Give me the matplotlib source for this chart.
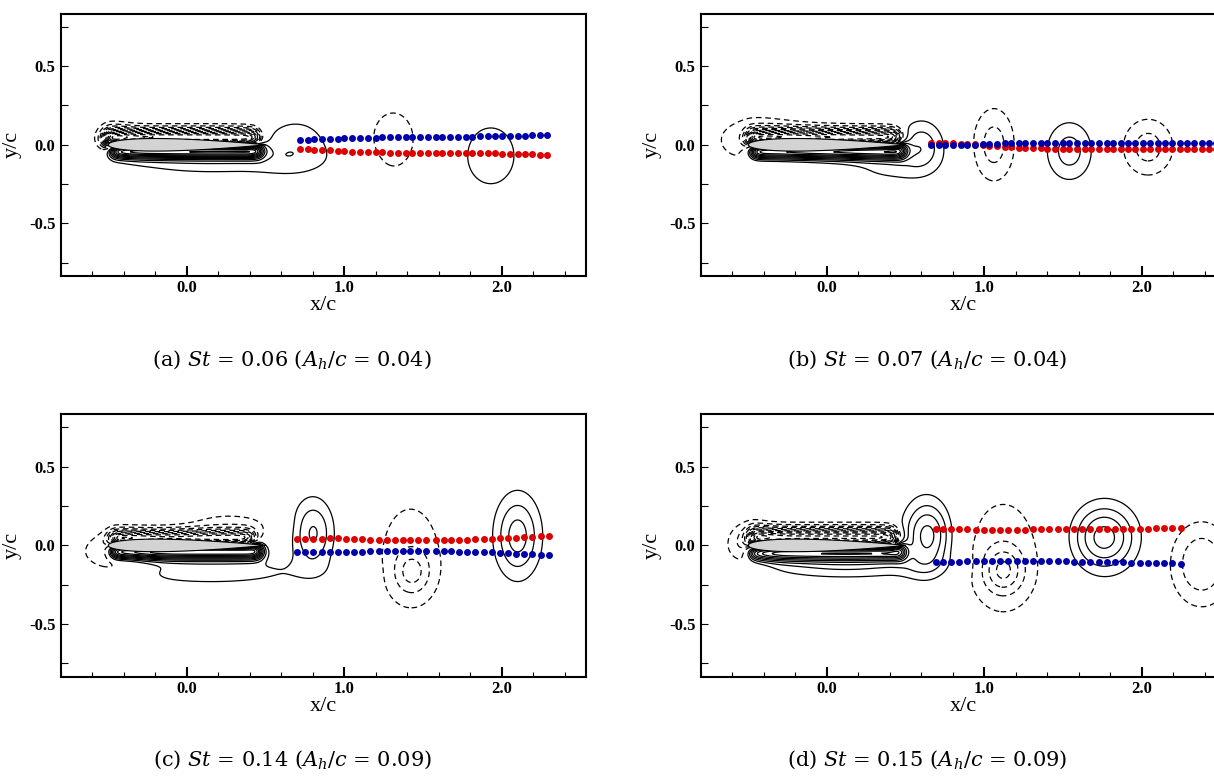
import numpy as np
import matplotlib
matplotlib.use('Agg')
import matplotlib.pyplot as plt
from matplotlib.ticker import MultipleLocator, FormatStrFormatter

plt.rcParams['font.family'] = 'serif'
plt.rcParams['font.serif'] = ['Liberation Serif', 'DejaVu Serif']
plt.rcParams['mathtext.fontset'] = 'dejavuserif'
plt.rcParams['axes.unicode_minus'] = False
plt.rcParams['lines.dashed_pattern'] = [4.5, 3.0]

# probe points (x/c) and vortex-centre heights (y/c), red = upper row, blue = lower row
xa = [0.72, 0.77, 0.81, 0.86, 0.91, 0.96, 1.00, 1.05, 1.10, 1.15, 1.20, 1.24, 1.29, 1.34, 1.39, 1.43, 1.48,
      1.53, 1.58, 1.62, 1.67, 1.72, 1.77, 1.81, 1.86, 1.91, 1.96, 2.00, 2.05, 2.10, 2.15, 2.19, 2.24, 2.29]
red_a = [-0.027, -0.029, -0.032, -0.034, -0.036, -0.038, -0.040, -0.043, -0.045, -0.047, -0.048, -0.048, -0.049,
         -0.050, -0.050, -0.050, -0.051, -0.051, -0.052, -0.052, -0.052, -0.053, -0.053, -0.053, -0.054, -0.054,
         -0.055, -0.056, -0.057, -0.058, -0.059, -0.060, -0.062, -0.063]
blue_a = [0.030, 0.031, 0.034, 0.036, 0.038, 0.040, 0.042, 0.043, 0.044, 0.045, 0.046, 0.047, 0.047, 0.048,
          0.048, 0.049, 0.049, 0.050, 0.050, 0.050, 0.051, 0.051, 0.052, 0.052, 0.053, 0.053, 0.054, 0.055,
          0.056, 0.057, 0.058, 0.060, 0.061, 0.063]

xb = [0.66, 0.71, 0.75, 0.80, 0.85, 0.89, 0.94, 0.99, 1.03, 1.08, 1.13, 1.17, 1.22, 1.26, 1.31, 1.36, 1.40,
      1.45, 1.50, 1.54, 1.59, 1.64, 1.68, 1.73, 1.78, 1.82, 1.87, 1.91, 1.96, 2.01, 2.05, 2.10, 2.15, 2.19,
      2.24, 2.29, 2.33, 2.38, 2.43, 2.47, 2.52]
red_b = [0.012, 0.012, 0.011, 0.010, 0.008, 0.006, 0.003, 0.000, -0.005, -0.010, -0.014, -0.017, -0.019,
         -0.021, -0.022, -0.023, -0.024, -0.024, -0.025, -0.025, -0.025, -0.025, -0.026, -0.026, -0.026,
         -0.026, -0.026, -0.026, -0.026, -0.026, -0.026, -0.026, -0.026, -0.026, -0.026, -0.026, -0.026,
         -0.026, -0.026, -0.026, -0.026]
blue_b = [0.000, 0.000, 0.000, 0.000, 0.000, 0.000, 0.001, 0.003, 0.005, 0.007, 0.009, 0.010, 0.011, 0.012,
          0.012, 0.012, 0.013, 0.013, 0.013, 0.013, 0.013, 0.013, 0.013, 0.013, 0.013, 0.013, 0.013, 0.013,
          0.013, 0.013, 0.013, 0.013, 0.013, 0.013, 0.013, 0.013, 0.013, 0.013, 0.013, 0.013, 0.013]

xc = [0.70, 0.75, 0.80, 0.86, 0.91, 0.96, 1.01, 1.06, 1.11, 1.16, 1.22, 1.27, 1.32, 1.37, 1.42, 1.47, 1.52,
      1.58, 1.63, 1.68, 1.73, 1.78, 1.83, 1.89, 1.94, 1.99, 2.04, 2.09, 2.14, 2.19, 2.25, 2.30]
red_c = [0.041, 0.041, 0.042, 0.043, 0.044, 0.044, 0.042, 0.040, 0.038, 0.036, 0.034, 0.033, 0.032, 0.032,
         0.032, 0.033, 0.033, 0.034, 0.034, 0.035, 0.036, 0.037, 0.038, 0.040, 0.042, 0.044, 0.047, 0.050,
         0.053, 0.056, 0.059, 0.062]
blue_c = [-0.044, -0.044, -0.044, -0.043, -0.043, -0.042, -0.041, -0.040, -0.039, -0.038, -0.037, -0.037,
          -0.036, -0.036, -0.036, -0.036, -0.036, -0.037, -0.037, -0.038, -0.039, -0.040, -0.041, -0.042,
          -0.044, -0.046, -0.049, -0.052, -0.055, -0.057, -0.059, -0.061]

xd = [0.69, 0.74, 0.79, 0.84, 0.89, 0.95, 1.00, 1.05, 1.10, 1.15, 1.21, 1.26, 1.31, 1.36, 1.41, 1.47, 1.52,
      1.57, 1.62, 1.67, 1.73, 1.78, 1.83, 1.88, 1.93, 1.99, 2.04, 2.09, 2.14, 2.19, 2.25]
red_d = [0.106, 0.105, 0.104, 0.103, 0.102, 0.101, 0.100, 0.100, 0.100, 0.100, 0.101, 0.101, 0.102, 0.103,
         0.104, 0.104, 0.104, 0.104, 0.104, 0.104, 0.105, 0.105, 0.105, 0.106, 0.106, 0.107, 0.107, 0.108,
         0.109, 0.110, 0.110]
blue_d = [-0.106, -0.105, -0.104, -0.103, -0.101, -0.099, -0.098, -0.098, -0.098, -0.098, -0.099, -0.100,
          -0.101, -0.102, -0.102, -0.102, -0.102, -0.103, -0.103, -0.104, -0.105, -0.106, -0.107, -0.108,
          -0.109, -0.110, -0.111, -0.112, -0.113, -0.115, -0.116]

# shear layers on the airfoil: (x start, x end, y centre, thickness, strength)
layers_a = [(-0.52, 0.45, 0.040, 0.060, -12), (-0.48, 0.47, -0.035, 0.048, 12)]
layers_b = [(-0.50, 0.46, 0.040, 0.060, -12), (-0.48, 0.49, -0.035, 0.052, 12)]
layers_c = [(-0.48, 0.42, 0.040, 0.055, -10), (-0.48, 0.47, -0.035, 0.052, 12)]
layers_d = [(-0.49, 0.44, 0.045, 0.065, -12), (-0.49, 0.49, -0.040, 0.055, 10)]

# vortices: (x centre, y centre, x radius, y radius, strength); negative = dashed
vort_a = [(-0.47, 0.03, 0.09, 0.09, -1.8), (0.15, -0.10, 0.42, 0.07, 1.5), (0.69, 0.01, 0.15, 0.12, 1.5),
          (1.31, 0.027, 0.13, 0.175, -1.5), (1.93, -0.07, 0.147, 0.177, 1.5)]
vort_b = [(-0.45, 0.03, 0.22, 0.13, -1.5), (0.60, 0.00, 0.13, 0.15, 2.5), (0.40, -0.12, 0.15, 0.07, 1.3),
          (1.06, 0.00, 0.13, 0.23, -2.5), (1.54, -0.04, 0.14, 0.18, 2.5), (2.04, -0.015, 0.157, 0.177, -2.5)]
vort_c = [(0.27, 0.12, 0.20, 0.065, -1.5), (-0.45, -0.05, 0.20, 0.13, -2.5), (0.15, -0.17, 0.42, 0.06, 1.5),
          (0.80, 0.08, 0.14, 0.23, 3.2), (1.42, -0.06, 0.17, 0.29, -1.5), (1.43, -0.17, 0.10, 0.12, -2.2),
          (2.10, 0.06, 0.16, 0.29, 3.5)]
vort_d = [(-0.50, 0.00, 0.13, 0.14, -2.5), (0.12, -0.13, 0.45, 0.07, 2.0), (0.64, 0.06, 0.18, 0.27, 4.5),
          (1.12, -0.06, 0.20, 0.32, -1.5), (1.12, -0.16, 0.13, 0.15, -3.0), (1.76, 0.05, 0.24, 0.25, 4.5),
          (2.38, -0.12, 0.20, 0.27, -3.0)]

captions = [r'(a) $St$ = 0.06 ($A_h/c$ = 0.04)', r'(b) $St$ = 0.07 ($A_h/c$ = 0.04)',
            r'(c) $St$ = 0.14 ($A_h/c$ = 0.09)', r'(d) $St$ = 0.15 ($A_h/c$ = 0.09)']

xg = np.linspace(-0.85, 2.6, 700)
yg = np.linspace(-0.85, 0.85, 360)
X, Y = np.meshgrid(xg, yg)


def field(layers, vorts):
    w = np.zeros_like(X)
    for x0, x1, yc, sy, amp in layers:
        box = 0.5 * (np.tanh((X - x0) / 0.04) - np.tanh((X - x1) / 0.04))
        w += amp * box * np.exp(-((Y - yc) / sy) ** 2)
    for cx, cy, rx, ry, amp in vorts:
        k = np.sqrt(np.log(abs(amp)))
        w += amp * np.exp(-((X - cx) / (rx / k)) ** 2 - ((Y - cy) / (ry / k)) ** 2)
    return w


# NACA 00xx section, chord from -0.5 to 0.5
xs = np.linspace(0, 1, 200)
yt = 5 * 0.08 * (0.2969 * np.sqrt(xs) - 0.126 * xs - 0.3516 * xs ** 2 + 0.2843 * xs ** 3 - 0.1036 * xs ** 4)
foil_x = np.concatenate([xs, xs[::-1]]) - 0.5
foil_y = np.concatenate([yt, -yt[::-1]])

pos_levels = np.arange(1, 15)
neg_levels = -pos_levels[::-1]

fig = plt.figure(figsize=(12.14, 7.77), dpi=100)
W, H = 1214, 777
boxes = [(61, 13.7), (701, 13.7), (61, 414.3), (701, 414.3)]
cap_pos = [(292, 360), (927, 360), (292, 760), (927, 760)]
panels = [(layers_a, vort_a, xa, red_a, blue_a), (layers_b, vort_b, xb, red_b, blue_b),
          (layers_c, vort_c, xc, red_c, blue_c), (layers_d, vort_d, xd, red_d, blue_d)]

for i, (layers, vorts, xp, red, blue) in enumerate(panels):
    left, top = boxes[i]
    ax = fig.add_axes([left / W, 1 - (top + 262.2) / H, 525 / W, 262.2 / H])
    w = field(layers, vorts)
    ax.contour(X, Y, w, levels=pos_levels, colors='k', linewidths=0.9, linestyles='solid', zorder=1)
    ax.contour(X, Y, w, levels=neg_levels, colors='k', linewidths=0.9, linestyles='dashed', zorder=1)
    ax.fill(foil_x, foil_y, facecolor='#d3d3d3', edgecolor='k', lw=0.8, zorder=3)
    ax.plot(xp, red, 'o', color='#dd0000', ms=5, mec='none', zorder=4)
    ax.plot(xp, blue, 'o', color='#0000aa', ms=5, mec='none', zorder=5)

    ax.set_xlim(-0.8, 2.535)
    ax.set_ylim(-0.833, 0.833)
    ax.xaxis.set_major_locator(MultipleLocator(1.0))
    ax.xaxis.set_minor_locator(MultipleLocator(0.2))
    ax.yaxis.set_major_locator(MultipleLocator(0.5))
    ax.yaxis.set_minor_locator(MultipleLocator(0.25))
    ax.xaxis.set_major_formatter(FormatStrFormatter('%.1f'))
    ax.yaxis.set_major_formatter(FormatStrFormatter('%.1f'))
    ax.tick_params(axis='x', which='major', direction='in', length=7.5, width=1.5, pad=3)
    ax.tick_params(axis='x', which='minor', direction='in', length=3.6, width=0.8)
    ax.tick_params(axis='y', which='both', direction='in', length=5, width=0.8, pad=4)
    for lab in ax.get_xticklabels() + ax.get_yticklabels():
        lab.set_fontweight('bold')
        lab.set_fontsize(12)
    for s in ax.spines.values():
        s.set_linewidth(1.5)
    ax.set_xlabel('x/c', fontsize=16, labelpad=0)
    ax.set_ylabel('y/c', fontsize=16, labelpad=5)

    cx, cy = cap_pos[i]
    fig.text(cx / W, 1 - cy / H, captions[i], ha='center', va='center', fontsize=15, family='DejaVu Serif')

fig.savefig('out.png', dpi=100)
